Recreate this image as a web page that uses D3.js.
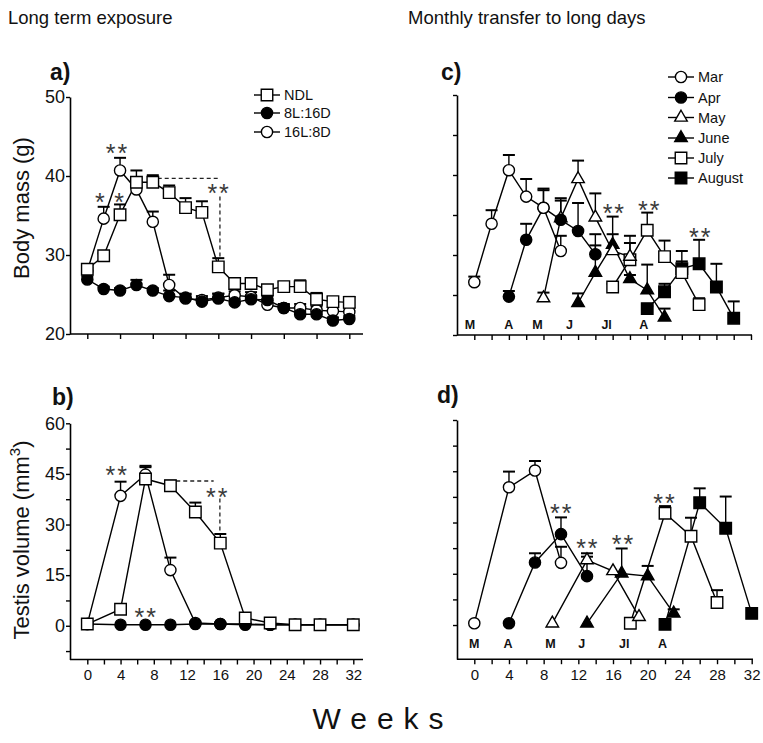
<!DOCTYPE html>
<html><head><meta charset="utf-8">
<script src="https://cdn.jsdelivr.net/npm/d3@7"></script>
<style>body{margin:0;background:#fff} svg{display:block;font-family:"Liberation Sans",Arial,sans-serif}</style>
</head><body><svg id="chart" width="763" height="743"></svg>
<script>
// ---------- DATA ----------
// Panel a: body mass, long-term exposure (every 2 weeks)
const weeksA = [0,2,4,6,8,10,12,14,16,18,20,22,24,26,28,30,32];
const ndlMass    = [28.2,29.9,35.1,39.2,39.2,37.9,36.0,35.4,28.5,26.4,26.4,25.6,26.0,26.0,24.4,24.1,24.0];
const ndlMassErr = [0.55,0.3,1.3,1.5,0.9,0.9,1.2,1.4,1.1,0.6,0.5,0.5,0.6,0.8,0.8,0.55,0.7];
const sdMass     = [26.9,25.7,25.5,26.2,25.5,24.8,24.6,24.1,24.5,24.0,24.4,24.3,23.3,22.5,22.5,21.7,21.9];
const sdMassErr  = [0.4,0.3,0.3,0.65,0.3,0.7,0.5,0.4,0.6,0.4,0.5,0.5,0.4,0.4,0.4,0.4,0.4];
const ldMass     = [28.0,34.6,40.7,38.3,34.2,26.2,24.5,24.3,24.6,24.9,24.7,23.7,23.3,23.3,23.0,22.9,22.8];
const ldMassErr  = [0.4,1.5,1.6,0.9,1.3,1.3,0.5,0.5,0.5,0.5,0.6,0.5,0.5,0.5,0.5,0.5,0.5];

// Panel b: testis volume, long-term exposure
const weeksB = [0,4,7,10,13,16,19,22,25,28,32];
const ndlTestis    = [0.5,4.9,43.5,41.5,33.7,24.5,2.3,0.8,0.3,0.3,0.3];
const ndlTestisErr = [0,0,3.5,1.5,2.8,2.7,0,0,0,0,0];
const sdTestis     = [0.5,0.3,0.3,0.3,0.5,0.5,0.3,0.3,0.3,0.3,0.3];
const sdTestisErr  = [0,0,0,0,0,0,0,0,0,0,0];
const ldTestis     = [0.5,38.5,44.8,16.5,0.8,0.5,0.5,0.3,0.3,0.3,0.3];
const ldTestisErr  = [0,4.2,2.6,3.7,0,0,0,0,0,0,0];

// Panel c: body mass, monthly transfer
const marWkC = [0,2,4,6,8,10],    marC = [26.6,33.9,40.6,37.3,35.9,30.5], marCErr = [0.7,1.7,1.9,2.2,2.4,1.9];
const aprWkC = [4,6,8,10,12,14],  aprC = [24.8,31.9,35.9,34.4,33.0,30.1], aprCErr = [0.7,2.0,2.2,2.7,3.5,2.5];
const mayWkC = [8,10,12,14,16,18],mayC = [24.6,34.6,39.5,34.7,30.5,29.8], mayCErr = [0.7,2.2,2.3,3.0,2.1,1.7];
const junWkC = [12,14,16,18,20,22],junC = [24.0,27.8,31.3,27.0,25.6,22.2],junCErr = [1.2,3.4,3.5,0.5,3.2,1.1];
const julWkC = [16,18,20,22,24,26],julC = [26.0,29.4,33.1,29.8,27.8,23.8],julCErr = [0.4,3.0,2.2,2.0,2.7,0.8];
const augWkC = [20,22,24,26,28,30],augC = [23.3,25.4,28.3,28.9,26.0,22.1],augCErr = [0.3,1.0,0.9,3.0,2.9,2.1];

// Panel d: testis volume, monthly transfer
const marWkD = [0,4,7,10],   marD = [0.5,40.3,45.2,18.2], marDErr = [0,4.6,2.8,4.7];
const aprWkD = [4,7,10,13],  aprD = [0.5,18.3,26.6,14.3], aprDErr = [0,2.7,4.9,5.7];
const mayWkD = [9,13,16,19], mayD = [0.5,19.0,15.8,2.4],  mayDErr = [0,2.0,0,0];
const junWkD = [13,17,20,23],junD = [0.5,15.1,14.3,3.4],  junDErr = [0,7.3,3.0,1.2];
const julWkD = [18,22,25,28],julD = [0.5,32.7,26.0,6.6],  julDErr = [0,2.1,5.4,3.6];
const augWkD = [22,26,29,32],augD = [0.2,35.8,28.3,3.4],  augDErr = [0,4.2,9.3,0];

// Tick values / labels
const massTicksA = [20,30,40,50];
const massTicksC = [20,25,30,35,40,45,50];
const testisTicksB = [-7.5,0,7.5,15,22.5,30,37.5,45,52.5,60];
const testisTicksD = [0,7.5,15,22.5,30,37.5,45,52.5,60];
const testisLabels = [0,15,30,45,60];
const weekTicksA = [0,4,8,12,16,20,24,28,32];
const weekTicks2 = d3.range(0,33,2);
const weekLabels = [0,4,8,12,16,20,24,28,32];

// Month labels (start month of each transfer group)
const monthNames = ["M","A","M","J","Jl","A"];
const monthPosC = [-0.5,4,7.3,11,15.3,19.6];
const monthPosD = [0,3.9,8.8,12.4,17.3,21.7];

// Significance annotations [week, value, text]
const starsA = [[3.7,43.5,"**"],[1.55,37.3,"*"],[3.9,37.3,"*"],[16.1,38.5,"**"]];
const starsB = [[3.6,46.3,"**"],[7.1,4.0,"**"],[15.7,39.5,"**"]];
const starsC = [[16.2,35.9,"**"],[20.3,36.2,"**"],[26.2,32.9,"**"]];
const starsD = [[10.1,34.2,"**"],[13.1,24.0,"**"],[17.2,25.2,"**"],[22.0,37.2,"**"]];

// Legend entries
const legendA = ["NDL","8L:16D","16L:8D"];
const legendC = ["Mar","Apr","May","June","July","August"];

// ---------- DRAW ----------
const svg = d3.select("#chart");
const FONT = '"Liberation Sans",Arial,sans-serif';

function symPath(shape){
  if(shape==="circle") return d3.symbol().type(d3.symbolCircle).size(Math.PI*5.6*5.6)();
  if(shape==="square") return d3.symbol().type(d3.symbolSquare).size(11.5*11.5)();
  return d3.symbol().type(d3.symbolTriangle).size(68)();
}

function panel(cfg){
  const g = svg.append("g");
  const x = d3.scaleLinear().domain([0,32]).range(cfg.xRange);
  const y = d3.scaleLinear().domain(cfg.yDomain).range(cfg.yRange);
  const y0 = cfg.yRange[0];

  // Y axis
  const ya = d3.axisLeft(y).tickValues(cfg.yTicks).tickSize(4).tickSizeOuter(0).tickPadding(1)
    .tickFormat(d => cfg.yLabels.includes(d) ? d : "");
  const yg = g.append("g").attr("transform",`translate(${cfg.axisX},0)`).call(ya);
  yg.select(".domain").attr("stroke-width",1.6);
  yg.selectAll(".tick line").attr("stroke-width",1.4);
  yg.selectAll("text").attr("font-size",18).attr("font-family",FONT).attr("fill","#111");

  // X axis
  const xa = d3.axisBottom(x).tickValues(cfg.xTicks).tickSize(5).tickSizeOuter(0).tickPadding(5)
    .tickFormat(d => cfg.xLabels && weekLabels.includes(d) ? d : "");
  const xg = g.append("g").attr("transform",`translate(0,${y0})`).call(xa);
  xg.select(".domain").remove();
  xg.selectAll(".tick line").attr("stroke-width",1.4);
  xg.selectAll("text").attr("font-size",15).attr("font-family",FONT).attr("fill","#111");
  g.append("line").attr("x1",cfg.axisX).attr("x2",cfg.xEnd).attr("y1",y0).attr("y2",y0)
    .attr("stroke","#000").attr("stroke-width",1.6);

  // dashed significance lines
  (cfg.dashes||[]).forEach(dd=>{
    g.append("line").attr("x1",x(dd[0])).attr("y1",y(dd[1])).attr("x2",x(dd[2])).attr("y2",y(dd[3]))
      .attr("stroke","#222").attr("stroke-width",1.3).attr("stroke-dasharray","4,3");
  });

  const series = cfg.series;
  // error bars
  series.forEach(s=>{
    s.w.forEach((w,i)=>{
      const e = s.e[i]; if(!e) return;
      const cx = x(w), top = y(s.v[i]+e);
      g.append("line").attr("x1",cx).attr("x2",cx).attr("y1",y(s.v[i])).attr("y2",top)
        .attr("stroke","#000").attr("stroke-width",1.4);
      g.append("line").attr("x1",cx-6).attr("x2",cx+6).attr("y1",top).attr("y2",top)
        .attr("stroke","#000").attr("stroke-width",2);
    });
  });
  // lines
  const line = d3.line().x(d=>x(d[0])).y(d=>y(d[1]));
  series.forEach(s=>{
    g.append("path").attr("d",line(s.w.map((w,i)=>[w,s.v[i]])))
      .attr("fill","none").attr("stroke","#000").attr("stroke-width",1.4);
  });
  // markers
  series.forEach(s=>{
    s.w.forEach((w,i)=>{
      g.append("path").attr("d",symPath(s.shape))
        .attr("transform",`translate(${x(w)},${y(s.v[i])})`)
        .attr("fill",s.filled?"#000":"#fff").attr("stroke","#000").attr("stroke-width",1.4);
    });
  });

  // asterisks
  (cfg.stars||[]).forEach(st=>{
    g.append("text").attr("x",x(st[0])).attr("y",y(st[1])+14).attr("text-anchor","middle")
      .attr("font-size",25).attr("font-family",FONT).attr("fill","#3a3a3a")
      .attr("letter-spacing",st[2].length>1?2:0).text(st[2]);
  });

  // month labels
  if(cfg.months){
    cfg.months.forEach((m,i)=>{
      g.append("text").attr("x",x(m)).attr("y",cfg.monthY).attr("text-anchor","middle")
        .attr("font-size",12.5).attr("font-weight","bold").attr("font-family",FONT).attr("fill","#111")
        .text(monthNames[i]);
    });
  }
  return {x,y};
}

// Panel a
panel({
  xRange:[87.3,349.3], yDomain:[20,50], yRange:[334,97], axisX:70, xEnd:363,
  yTicks:massTicksA, yLabels:massTicksA, xTicks:weekTicksA, xLabels:false,
  series:[
    {w:weeksA,v:ldMass,e:ldMassErr,shape:"circle",filled:false},
    {w:weeksA,v:sdMass,e:sdMassErr,shape:"circle",filled:true},
    {w:weeksA,v:ndlMass,e:ndlMassErr,shape:"square",filled:false}
  ],
  dashes:[[8.6,39.7,16.1,39.7],[16.2,37.4,16.2,29.6]],
  stars:starsA
});
// Panel b
panel({
  xRange:[87.3,353.3], yDomain:[-10,60], yRange:[659.5,423.3], axisX:70, xEnd:363,
  yTicks:testisTicksB, yLabels:testisLabels, xTicks:weekTicks2, xLabels:true,
  series:[
    {w:weeksB,v:ldTestis,e:ldTestisErr,shape:"circle",filled:false},
    {w:weeksB,v:sdTestis,e:sdTestisErr,shape:"circle",filled:true},
    {w:weeksB,v:ndlTestis,e:ndlTestisErr,shape:"square",filled:false}
  ],
  dashes:[[10.7,42.9,15.2,42.9],[15.95,37.7,15.95,27.2]],
  stars:starsB
});
// Panel c
panel({
  xRange:[474.3,751], yDomain:[20,50], yRange:[335,95], axisX:457, xEnd:752,
  yTicks:massTicksC, yLabels:[], xTicks:weekTicks2, xLabels:false,
  series:[
    {w:augWkC,v:augC,e:augCErr,shape:"square",filled:true},
    {w:julWkC,v:julC,e:julCErr,shape:"square",filled:false},
    {w:junWkC,v:junC,e:junCErr,shape:"triangle",filled:true},
    {w:mayWkC,v:mayC,e:mayCErr,shape:"triangle",filled:false},
    {w:aprWkC,v:aprC,e:aprCErr,shape:"circle",filled:true},
    {w:marWkC,v:marC,e:marCErr,shape:"circle",filled:false}
  ],
  stars:starsC, months:monthPosC, monthY:329
});
// Panel d
panel({
  xRange:[474.3,751.7], yDomain:[-10,60], yRange:[659.2,420], axisX:457, xEnd:753,
  yTicks:testisTicksD, yLabels:[], xTicks:weekTicks2, xLabels:true,
  series:[
    {w:augWkD,v:augD,e:augDErr,shape:"square",filled:true},
    {w:julWkD,v:julD,e:julDErr,shape:"square",filled:false},
    {w:junWkD,v:junD,e:junDErr,shape:"triangle",filled:true},
    {w:mayWkD,v:mayD,e:mayDErr,shape:"triangle",filled:false},
    {w:aprWkD,v:aprD,e:aprDErr,shape:"circle",filled:true},
    {w:marWkD,v:marD,e:marDErr,shape:"circle",filled:false}
  ],
  stars:starsD, months:monthPosD, monthY:648
});

// Legends
function legend(names, shapes, fills, sx, ys){
  names.forEach((n,i)=>{
    const g = svg.append("g").attr("transform",`translate(${sx},${ys[i]})`);
    g.append("line").attr("x1",-13).attr("x2",13).attr("y1",0).attr("y2",0).attr("stroke","#000").attr("stroke-width",1.4);
    g.append("path").attr("d",symPath(shapes[i])).attr("fill",fills[i]?"#000":"#fff").attr("stroke","#000").attr("stroke-width",1.4);
    g.append("text").attr("x",17).attr("y",5).attr("font-size",14.5).attr("font-family",FONT).attr("fill","#111").text(n);
  });
}
legend(legendA,["square","circle","circle"],[false,true,false],267,[95,113,132]);
legend(legendC,["circle","circle","triangle","triangle","square","square"],[false,true,false,true,false,true],681,[77,97.5,117.5,138,158,178]);

// Texts
const T = (x,y,s,opt={}) => svg.append("text").attr("x",x).attr("y",y).attr("font-family",FONT).attr("fill","#111")
  .attr("font-size",opt.size||18).attr("font-weight",opt.bold?"bold":"normal").attr("text-anchor",opt.anchor||"start").text(s);
T(8,24,"Long term exposure",{size:18.5});
T(408,24,"Monthly transfer to long days",{size:18.5});
T(50,80,"a)",{size:23,bold:true});
T(52,405,"b)",{size:23,bold:true});
T(441,80,"c)",{size:23,bold:true});
T(437,403,"d)",{size:23,bold:true});
svg.append("text").attr("transform","translate(29,208) rotate(-90)").attr("text-anchor","middle")
  .attr("font-size",22).attr("font-family",FONT).attr("fill","#111").text("Body mass (g)");
const tv = svg.append("text").attr("transform","translate(29,540) rotate(-90)").attr("text-anchor","middle")
  .attr("font-size",22).attr("font-family",FONT).attr("fill","#111");
tv.append("tspan").text("Testis volume (mm");
tv.append("tspan").attr("dy",-9).attr("font-size",15).text("3");
tv.append("tspan").attr("dy",9).text(")");
svg.append("text").attr("x",383).attr("y",729).attr("text-anchor","middle").attr("font-size",30)
  .attr("letter-spacing",10).attr("font-family",FONT).attr("fill","#111").text("Weeks");
</script></body></html>
